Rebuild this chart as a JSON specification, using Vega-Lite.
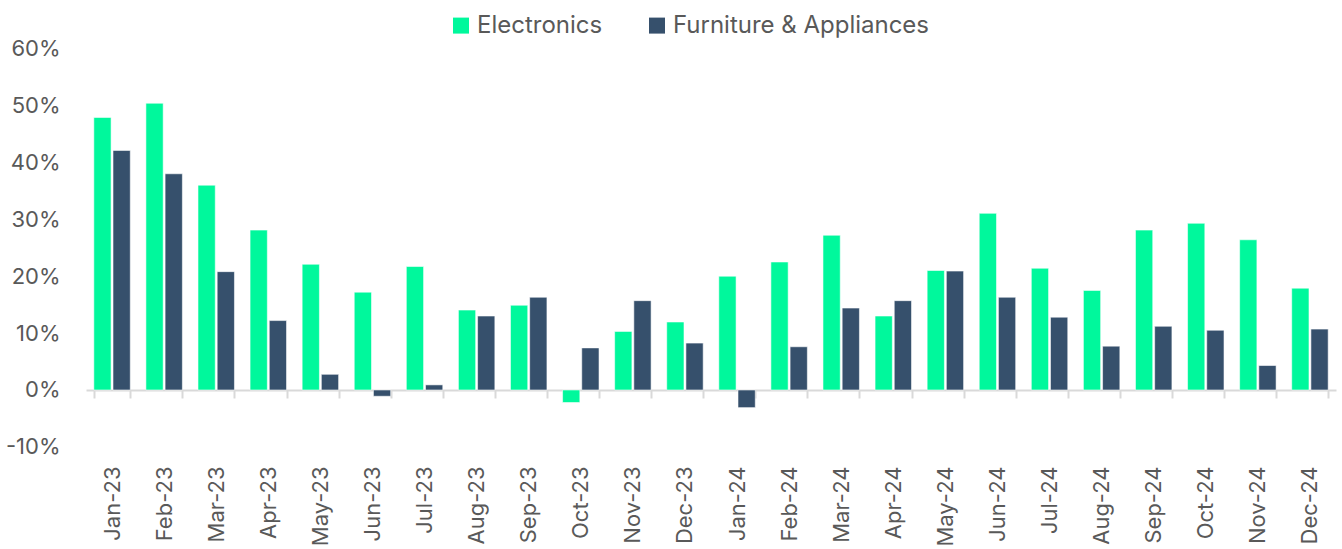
{
  "$schema": "https://vega.github.io/schema/vega-lite/v6.json",
  "autosize": {"type": "none"},
  "width": 1250,
  "height": 398.3,
  "padding": {"left": 86, "top": 48.6, "right": 6, "bottom": 102},
  "background": "white",
  "config": {
    "view": {"stroke": null},
    "font": "Inter",
    "axis": {"labelFont": "Inter", "labelColor": "#595959", "labelFontSize": 22}
  },
  "data": {
    "values": [
      {"month": "Jan-23", "series": "Electronics", "value": 47.9},
      {"month": "Jan-23", "series": "Furniture & Appliances", "value": 42.1},
      {"month": "Feb-23", "series": "Electronics", "value": 50.4},
      {"month": "Feb-23", "series": "Furniture & Appliances", "value": 38.0},
      {"month": "Mar-23", "series": "Electronics", "value": 36.0},
      {"month": "Mar-23", "series": "Furniture & Appliances", "value": 20.8},
      {"month": "Apr-23", "series": "Electronics", "value": 28.1},
      {"month": "Apr-23", "series": "Furniture & Appliances", "value": 12.2},
      {"month": "May-23", "series": "Electronics", "value": 22.1},
      {"month": "May-23", "series": "Furniture & Appliances", "value": 2.75},
      {"month": "Jun-23", "series": "Electronics", "value": 17.2},
      {"month": "Jun-23", "series": "Furniture & Appliances", "value": -1.1},
      {"month": "Jul-23", "series": "Electronics", "value": 21.7},
      {"month": "Jul-23", "series": "Furniture & Appliances", "value": 0.9},
      {"month": "Aug-23", "series": "Electronics", "value": 14.05},
      {"month": "Aug-23", "series": "Furniture & Appliances", "value": 13.0},
      {"month": "Sep-23", "series": "Electronics", "value": 14.9},
      {"month": "Sep-23", "series": "Furniture & Appliances", "value": 16.3},
      {"month": "Oct-23", "series": "Electronics", "value": -2.2},
      {"month": "Oct-23", "series": "Furniture & Appliances", "value": 7.4},
      {"month": "Nov-23", "series": "Electronics", "value": 10.3},
      {"month": "Nov-23", "series": "Furniture & Appliances", "value": 15.7},
      {"month": "Dec-23", "series": "Electronics", "value": 11.95},
      {"month": "Dec-23", "series": "Furniture & Appliances", "value": 8.25},
      {"month": "Jan-24", "series": "Electronics", "value": 20.0},
      {"month": "Jan-24", "series": "Furniture & Appliances", "value": -3.1},
      {"month": "Feb-24", "series": "Electronics", "value": 22.5},
      {"month": "Feb-24", "series": "Furniture & Appliances", "value": 7.6},
      {"month": "Mar-24", "series": "Electronics", "value": 27.2},
      {"month": "Mar-24", "series": "Furniture & Appliances", "value": 14.4},
      {"month": "Apr-24", "series": "Electronics", "value": 13.0},
      {"month": "Apr-24", "series": "Furniture & Appliances", "value": 15.7},
      {"month": "May-24", "series": "Electronics", "value": 21.0},
      {"month": "May-24", "series": "Furniture & Appliances", "value": 20.9},
      {"month": "Jun-24", "series": "Electronics", "value": 31.05},
      {"month": "Jun-24", "series": "Furniture & Appliances", "value": 16.3},
      {"month": "Jul-24", "series": "Electronics", "value": 21.4},
      {"month": "Jul-24", "series": "Furniture & Appliances", "value": 12.8},
      {"month": "Aug-24", "series": "Electronics", "value": 17.5},
      {"month": "Aug-24", "series": "Furniture & Appliances", "value": 7.7},
      {"month": "Sep-24", "series": "Electronics", "value": 28.1},
      {"month": "Sep-24", "series": "Furniture & Appliances", "value": 11.2},
      {"month": "Oct-24", "series": "Electronics", "value": 29.3},
      {"month": "Oct-24", "series": "Furniture & Appliances", "value": 10.5},
      {"month": "Nov-24", "series": "Electronics", "value": 26.4},
      {"month": "Nov-24", "series": "Furniture & Appliances", "value": 4.3},
      {"month": "Dec-24", "series": "Electronics", "value": 17.9},
      {"month": "Dec-24", "series": "Furniture & Appliances", "value": 10.7}
    ]
  },
  "mark": {"type": "bar", "stroke": "#ffffff", "strokeWidth": 0.8, "strokeOpacity": 0.7},
  "encoding": {
    "x": {
      "field": "month",
      "type": "nominal",
      "sort": null,
      "scale": {"paddingInner": 0.3, "paddingOuter": 0.15},
      "axis": {
        "title": null,
        "labelAngle": -90,
        "offset": -56.9,
        "domainColor": "#d9d9d9",
        "domainWidth": 2,
        "tickColor": "#d9d9d9",
        "tickWidth": 2,
        "tickSize": 8,
        "tickBand": "extent",
        "labelPadding": 68
      }
    },
    "xOffset": {
      "field": "series",
      "type": "nominal",
      "scale": {"paddingInner": 0.1}
    },
    "y": {
      "field": "value",
      "type": "quantitative",
      "scale": {"domain": [-10, 60], "nice": false, "zero": false},
      "axis": {
        "title": null,
        "values": [-10, 0, 10, 20, 30, 40, 50, 60],
        "labelExpr": "datum.value + '%'",
        "domain": false,
        "ticks": false,
        "grid": false,
        "labelPadding": 26
      }
    },
    "color": {
      "field": "series",
      "type": "nominal",
      "scale": {"domain": ["Electronics", "Furniture & Appliances"], "range": ["#00F89C", "#36506C"]},
      "legend": {
        "title": null,
        "orient": "none",
        "legendX": 363,
        "legendY": -35,
        "direction": "horizontal",
        "symbolType": "square",
        "symbolSize": 256,
        "symbolStrokeWidth": 0,
        "labelFontSize": 24,
        "labelFont": "Inter",
        "labelColor": "#595959",
        "labelOffset": 4,
        "labelLimit": 400,
        "columnPadding": 42
      }
    }
  }
}
